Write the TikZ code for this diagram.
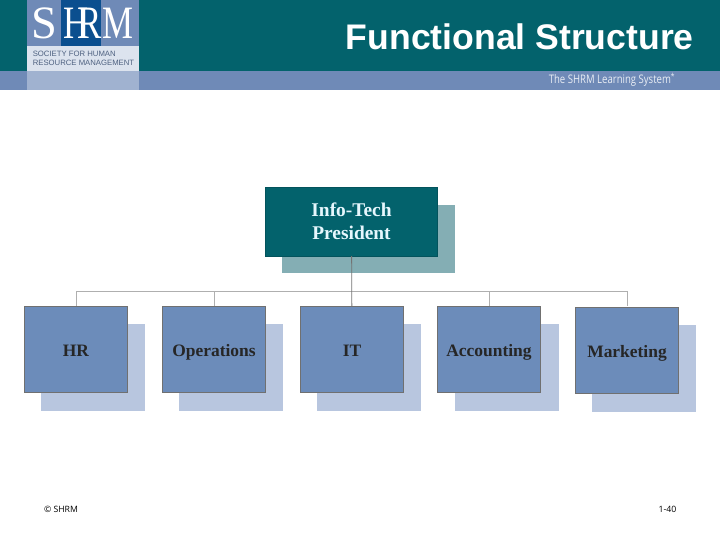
\documentclass[tikz,border=0pt]{standalone}
\usepackage{fontspec}
\setmainfont{Liberation Serif}
\newfontfamily\arialfont{Liberation Sans}
\newfontfamily\footfont{Open Sans}
\definecolor{tealdark}{HTML}{03626C}
\definecolor{tealshade}{HTML}{84AEB4}
\definecolor{bandblue}{HTML}{6F8AB7}
\definecolor{bandlight}{HTML}{A0B2D0}
\definecolor{logoblue}{HTML}{0B4F8F}
\definecolor{logopale}{HTML}{DCE3EE}
\definecolor{boxblue}{HTML}{6C8CBA}
\definecolor{boxshade}{HTML}{B8C6DF}
\definecolor{linegray}{HTML}{8C8C8C}
\tikzset{
  deptbox/.style={draw=linegray!80!black, line width=0.5pt, fill=boxblue, minimum width=73.6pt, minimum height=61.6pt, inner sep=0pt, text height=10pt, text depth=0.1pt, font=\bfseries\fontsize{12.4}{14}\selectfont, text=black!85},
  topbox/.style={draw=tealdark!85!black, line width=0.5pt, fill=tealdark, minimum width=122.5pt, minimum height=48.9pt, inner sep=0pt, align=center, font=\bfseries\fontsize{13.8}{16}\selectfont, text=white!90!cyan},
  link/.style={draw=linegray!70, line width=0.7pt},
  trunk/.style={draw=black!55, line width=0.6pt},
  logochar/.style={text=white, inner sep=0pt, font=\fontsize{33}{33}\selectfont},
}
\begin{document}
\begin{tikzpicture}[x=0.025cm,y=-0.025cm]
\useasboundingbox (0,0) rectangle (720,540);

% Header
\fill[tealdark] (0,0) rectangle (720,71);
\fill[bandblue] (0,71) rectangle (720,90);
\fill[bandblue] (27,0) rectangle (139,46);
\fill[logoblue] (61,0) rectangle (101,46);
\fill[logopale] (27,46) rectangle (139,71);
\fill[bandlight] (27,71) rectangle (139,90);

% Logo
\foreach \x/\lab/\nm/\sx in {44/S/logoS/1, 76/H/logoH/0.75, 90/R/logoR/0.75, 118/M/logoM/0.75} {
    \node[logochar] (\nm) at (\x,23) {\scalebox{\sx}[1]{\lab}};
}
\node[text=bandblue!70!black, font=\arialfont\fontsize{5.5}{6.6}\selectfont, align=left, inner sep=0pt] (logotext) at (83.5,58.5) {SOCIETY FOR HUMAN\\RESOURCE MANAGEMENT};

% Title
\node[anchor=east, text=white, inner sep=0pt, font=\arialfont\bfseries\fontsize{25.3}{28}\selectfont] (title) at (694,37) {Functional Structure};
\node[text=white!85!bandblue, inner sep=0pt, font=\footfont\fontsize{8.4}{10}\selectfont] (system) at (612,80) {\scalebox{0.81}[1]{The SHRM Learning System\textsuperscript{*}}};

% Shadows
\fill[tealshade] (282,205) rectangle (455,273);
\foreach \x/\y in {41/324, 179/324, 317/324, 455/324, 592/325} {
    \fill[boxshade] (\x,\y) rectangle +(104,87);
}

% Connectors
\coordinate (busmid) at (351.5,291);
\foreach \x/\nm in {76/hrtop, 214/opstop, 489/accttop, 627/mkttop} {
    \coordinate (\nm) at (\x,306);
    \draw[link] (busmid) -| (\nm);
}

% Boxes
\node[topbox] (president) at (351.5,221.5) {Info-Tech\\President};
\node[deptbox] (hr) at (76,349.5) {HR};
\node[deptbox] (ops) at (214,349.5) {Operations};
\node[deptbox] (it) at (352,349.5) {IT};
\node[deptbox] (acct) at (489,349.5) {Accounting};
\node[deptbox] (mkt) at (627,350.5) {Marketing};
\draw[trunk] (president) -- (it);

% Footer
\node[inner sep=0pt, font=\footfont\fontsize{6.2}{8}\selectfont] (copy) at (61,509.5) {© SHRM};
\node[inner sep=0pt, font=\footfont\fontsize{6.2}{8}\selectfont] (page) at (667.5,509.5) {1-40};
\end{tikzpicture}
\end{document}
